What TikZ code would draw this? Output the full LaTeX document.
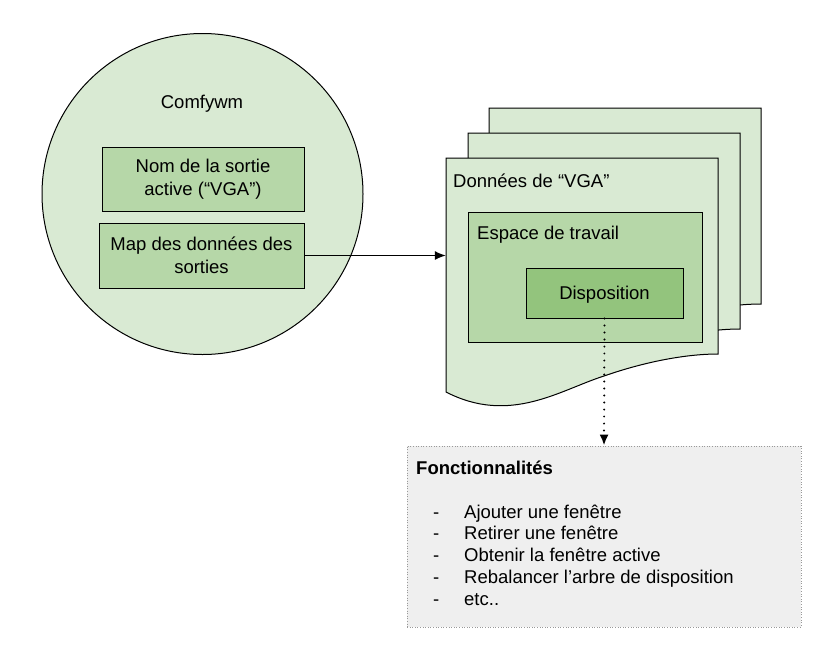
\documentclass[tikz,border=0pt]{standalone}
\usepackage{fontspec}
\setmainfont{Liberation Sans}
\usetikzlibrary{arrows.meta}
\definecolor{gA}{HTML}{D9EAD3}
\definecolor{gB}{HTML}{B6D7A8}
\definecolor{gC}{HTML}{93C47D}
\definecolor{grayF}{HTML}{EFEFEF}
\definecolor{grayB}{HTML}{999999}
\newcommand\docpath{(0,0) -- (272,0) -- (272,196) .. controls (244,196) and (204,202) .. (158,218) .. controls (114,232) and (64,267) .. (0,234) -- cycle}
\tikzset{
  txt/.style={font=\fontsize{18.5}{23}\selectfont, inner sep=0pt},
  box/.style={draw=black, line width=1pt, inner sep=0pt, align=center, font=\fontsize{18.5}{23}\selectfont},
  docshape/.style={draw=black, line width=1pt, fill=gA},
  arr/.style={line width=1.2pt, -{Latex[length=11pt,width=9pt]}},
  dotarr/.style={line width=2.2pt, line cap=round, dash pattern=on 0pt off 7pt, -{Latex[length=11pt,width=9pt]}}
}
\begin{document}
\begin{tikzpicture}[x=1pt,y=-1pt]
\useasboundingbox (0,0) rectangle (840,662);
\fill[white] (0,0) rectangle (840,662);
% Comfywm circle
\node[circle, draw=black, line width=1pt, fill=gA, minimum size=321pt, inner sep=0pt] (comfy) at (202.5,194) {};
\node[txt, anchor=base] (comfylbl) at (202,108.5) {Comfywm};
\node[box, fill=gB, minimum width=202pt, minimum height=64pt] (nom) at (203,179) {Nom de la sortie\\active (“VGA”)};
\node[box, fill=gB, minimum width=205pt, minimum height=65pt] (map) at (201.5,255.5) {Map des données des\\sorties};
% documents
\draw[docshape, shift={(489,108)}] \docpath;
\draw[docshape, shift={(468,133)}] \docpath;
\draw[docshape, shift={(446,158)}] \docpath;
\node[inner sep=0pt, minimum width=272pt, minimum height=196pt] (vga) at (582,256) {};
\node[txt, anchor=base west] (vgalbl) at (453,187) {Données de “VGA”};
\node[box, fill=gB, minimum width=234pt, minimum height=130pt] (espace) at (585,277) {};
\node[txt, anchor=base west] (espacelbl) at (477,239.5) {Espace de travail};
\node[box, fill=gC, minimum width=157pt, minimum height=50pt, text height=13.5pt, text depth=0pt] (dispo) at (604.5,293) {Disposition};
% Fonctionnalites box
\node[draw=grayB, fill=grayF, line width=0.8pt, dash pattern=on 1pt off 1.6pt, minimum width=394pt, minimum height=181pt, inner sep=0pt] (fonct) at (604,536.5) {};
\node[txt, anchor=base west, font=\fontsize{18.5}{23}\selectfont\bfseries] (fhead) at (416,474) {Fonctionnalités};
\node[txt, anchor=base west] (f1) at (433,518) {\makebox[31pt][l]{-}Ajouter une fenêtre};
\node[txt, anchor=base west] (f2) at (433,539.5) {\makebox[31pt][l]{-}Retirer une fenêtre};
\node[txt, anchor=base west] (f3) at (433,561) {\makebox[31pt][l]{-}Obtenir la fenêtre active};
\node[txt, anchor=base west] (f4) at (433,583) {\makebox[31pt][l]{-}Rebalancer l’arbre de disposition};
\node[txt, anchor=base west] (f5) at (433,605) {\makebox[31pt][l]{-}etc..};
% connectors
\draw[arr] (map.east) -- (map.east -| vga.west);
\draw[dotarr] (dispo.south) -- (fonct.north);
\end{tikzpicture}
\end{document}
